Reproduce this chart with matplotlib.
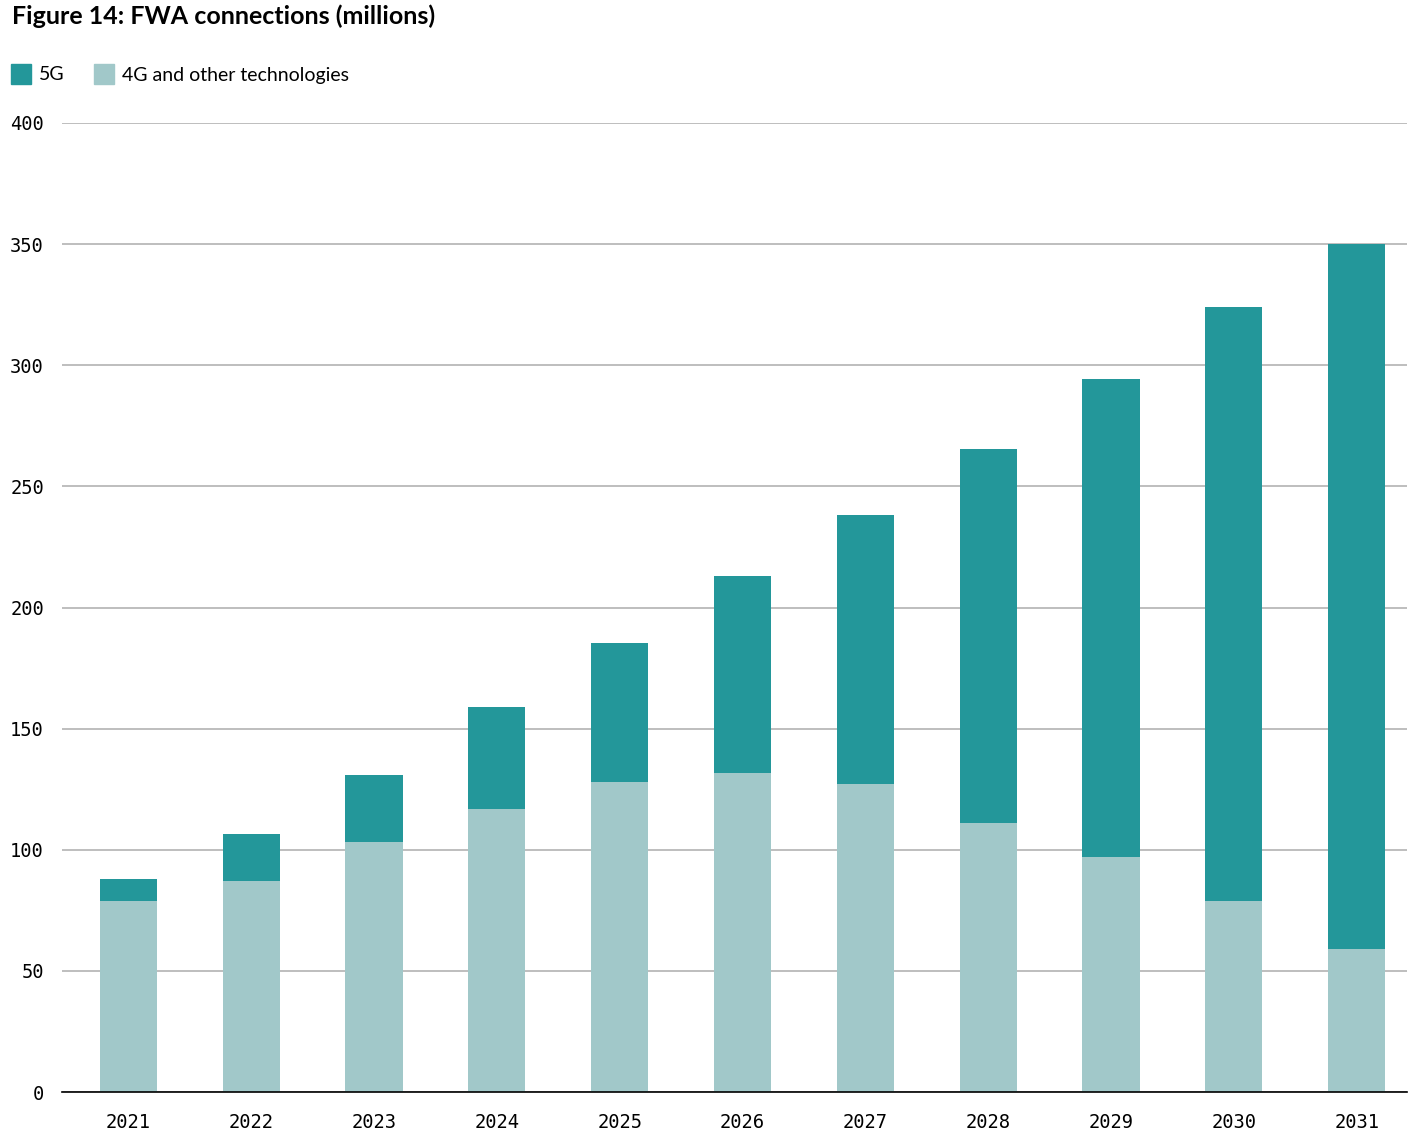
import matplotlib
matplotlib.use("Agg")
import matplotlib.pyplot as plt
import numpy as np
from matplotlib.patches import Rectangle

years = ["2021", "2022", "2023", "2024", "2025", "2026", "2027", "2028", "2029", "2030", "2031"]
totals = [88, 106.5, 131, 159, 185.5, 213, 238, 265.5, 294.5, 324, 350]
other_4g = [79, 87, 103, 117, 128, 131.5, 127, 111, 97, 79, 59]
fiveg = [t - o for t, o in zip(totals, other_4g)]
yticks = [0, 50, 100, 150, 200, 250, 300, 350, 400]

C5G = "#23979a"
C4G = "#a1c8c9"

fig = plt.figure(figsize=(14.13, 11.45), dpi=100)
ax = fig.add_axes([62/1413, 1 - 1092/1145, (1407-62)/1413, (1092-123)/1145])

x = np.arange(len(years))
ax.bar(x, other_4g, width=0.465, color=C4G, zorder=2)
ax.bar(x, fiveg, bottom=other_4g, width=0.465, color=C5G, zorder=2)

ax.set_ylim(0, 400)
ax.set_xlim(-0.54, 10.41)
ax.set_yticks(yticks)
ax.set_yticklabels([str(v) for v in yticks], family="DejaVu Sans Mono", fontsize=13.5)
ax.set_xticks(x)
ax.set_xticklabels(years, family="DejaVu Sans Mono", fontsize=13.5)
ax.tick_params(axis="both", length=0)
ax.tick_params(axis="y", pad=13)
ax.tick_params(axis="x", pad=15)
ax.grid(axis="y", color="#acacac", linewidth=1.1, zorder=0)
for s in ["top", "right", "left"]:
    ax.spines[s].set_visible(False)
ax.spines["bottom"].set_color("black")
ax.spines["bottom"].set_linewidth(1.2)
ax.spines["bottom"].set_zorder(3)

fig.text(12/1413, 1 - 16/1145, "Figure 14: FWA connections (millions)", fontsize=18,
         fontweight="bold", family="Lato", va="center", ha="left")

fig.patches.append(Rectangle((11/1413, 1 - 84/1145), 20/1413, 20/1145,
                             transform=fig.transFigure, color=C5G))
fig.text(39/1413, 1 - 75/1145, "5G", fontsize=14, family="Lato", va="center", ha="left")
fig.patches.append(Rectangle((94/1413, 1 - 84/1145), 20/1413, 20/1145,
                             transform=fig.transFigure, color=C4G))
fig.text(122/1413, 1 - 75/1145, "4G and other technologies", fontsize=14, family="Lato",
         va="center", ha="left")

fig.savefig("out.png", dpi=100)
